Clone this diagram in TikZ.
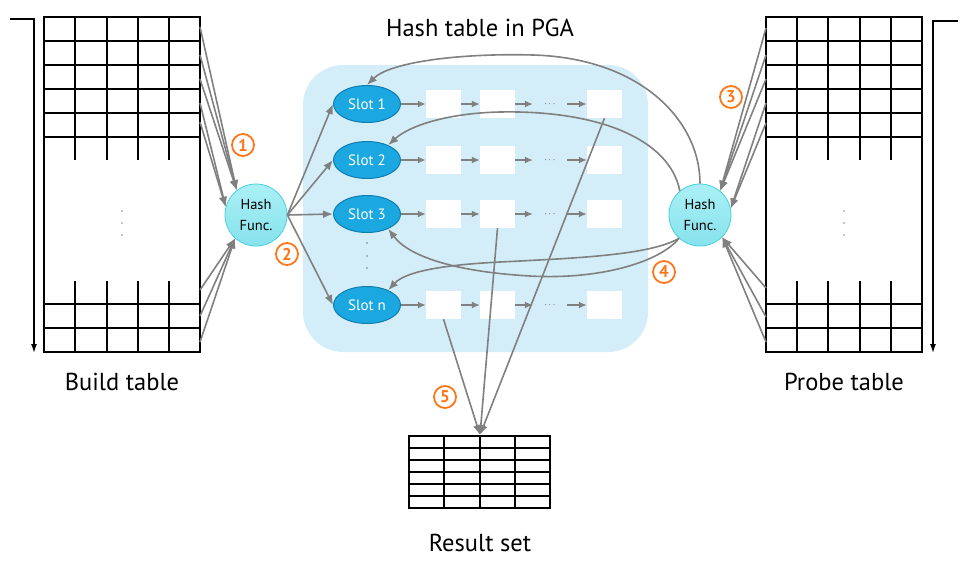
\documentclass[tikz,border=0pt]{standalone}
\usepackage{fontspec}
\setmainfont{PT Sans}
\usetikzlibrary{arrows.meta,shapes.geometric}
\definecolor{arrowgray}{RGB}{128,128,128}
\definecolor{pgablue}{RGB}{212,238,249}
\definecolor{slotfill}{RGB}{27,168,224}
\definecolor{slotborder}{RGB}{16,125,172}
\definecolor{hashtop}{RGB}{170,240,246}
\definecolor{hashfill}{RGB}{135,226,236}
\definecolor{hashborder}{RGB}{70,208,218}
\definecolor{steporange}{RGB}{255,118,24}
\tikzset{
  flow/.style={draw=arrowgray, line width=1.6pt, -{Latex[length=10pt,width=8pt]}},
  link/.style={draw=arrowgray, line width=1.3pt, -{Latex[length=8pt,width=7pt]}},
  slot/.style={ellipse, draw=slotborder, line width=1pt, fill=slotfill, text=white,
    minimum width=67pt, minimum height=37pt, inner sep=0pt, font=\fontsize{15}{16}\selectfont},
  hashfn/.style={circle, draw=hashborder, line width=0.8pt, top color=hashtop, bottom color=hashfill,
    minimum size=62pt, inner sep=0pt, align=center, font=\fontsize{14.5}{21}\selectfont},
  entry/.style={fill=white, minimum width=35pt, minimum height=28pt, inner sep=0pt},
  gap/.style={minimum width=34pt, inner sep=0pt, font=\fontsize{9}{10}\selectfont},
  stepnum/.style={circle, draw=steporange, line width=1.8pt, text=steporange, minimum size=22pt,
    inner sep=0pt, font=\bfseries\fontsize{17}{17}\selectfont},
  caption/.style={font=\fontsize{24.5}{28}\selectfont},
  grid/.style={line width=1.2pt},
}

\begin{document}
\begin{tikzpicture}[x=1pt, y=-1pt]
  \useasboundingbox (0,0) rectangle (977,560);

  % build table
  \draw[grid] (44,17) rectangle (200,352);
  \foreach \yy in {41,65,89,113,137,304,328} \draw[grid] (44,\yy) -- (200,\yy);
  \foreach \xx in {75,107,138,169}{
    \draw[grid] (\xx,17) -- (\xx,160);
    \draw[grid] (\xx,281) -- (\xx,352);
  }
  \foreach \yy in {211,223,235} \fill (122,\yy) circle (0.7pt);
  \draw[line width=1.4pt, -{Latex[length=9pt,width=6pt]}] (10,19) -- (34,19) -- (34,353);
  \node[caption] (buildcap) at (122,382) {Build table};

  % probe table
  \draw[grid] (766,17) rectangle (922,352);
  \foreach \yy in {41,65,89,113,137,304,328} \draw[grid] (766,\yy) -- (922,\yy);
  \foreach \xx in {797,828,860,891}{
    \draw[grid] (\xx,17) -- (\xx,160);
    \draw[grid] (\xx,281) -- (\xx,352);
  }
  \foreach \yy in {211,223,235} \fill (844,\yy) circle (0.7pt);
  \draw[line width=1.4pt, -{Latex[length=9pt,width=6pt]}] (958,21) -- (933,21) -- (933,353);
  \node[caption] (probecap) at (844,382) {Probe table};

  % result set
  \draw[grid] (409,436) rectangle (550,508);
  \foreach \yy in {448,460,472,484,496} \draw[grid] (409,\yy) -- (550,\yy);
  \foreach \xx in {444,480,515} \draw[grid] (\xx,436) -- (\xx,508);
  \coordinate (rtop) at (480,435);
  \node[caption] (resultcap) at (480,543) {Result set};

  % hash table in PGA
  \fill[pgablue, rounded corners=40pt] (303,65) rectangle (648,352);
  \node[caption] (title) at (480,28) {Hash table in PGA};

  \node[hashfn] (hashL) at (256,215) {Hash\\Func.};
  \node[hashfn] (hashR) at (700,215) {Hash\\Func.};

  \foreach \s/\yy in {1/104,2/160,3/214,n/305}{
    \node[slot] (s\s) at (367,\yy) {Slot \s};
    \node[entry] (e\s-a) at (443.5,\yy) {};
    \node[entry] (e\s-b) at (497.5,\yy) {};
    \node[entry] (e\s-c) at (604.5,\yy) {};
    \node[gap] (d\s) at (550,\yy) {$\cdots$};
    \draw[link] (s\s) -- (e\s-a);
    \draw[link] (e\s-a) -- (e\s-b);
    \draw[link] (e\s-b) -- (d\s);
    \draw[link] (d\s) -- (e\s-c);
    \draw[flow] (hashL.east) -- (s\s.west);
  }
  \foreach \yy in {243,256,268} \fill (367,\yy) circle (0.7pt);

  % rows into the hash functions
  \foreach \yy/\a in {27/128,55/128,79/128,103/165,122/165,290/228,316/228,342/228}{
    \coordinate (b\yy) at (200,\yy);
    \draw[flow] (b\yy) -- (hashL.\a);
  }
  \foreach \yy/\a in {28/50,55/50,79/50,103/12,123/12,288/-45,317/-45,342/-45}{
    \coordinate (p\yy) at (766,\yy);
    \draw[flow] (p\yy) -- (hashR.\a);
  }

  % probe lookups
  \draw[flow] (hashR.north) .. controls (700,120) and (640,58) .. (533,55)
    .. controls (460,53) and (390,62) .. (s1.north);
  \draw[flow] (hashR.130) .. controls (670,140) and (600,110) .. (500,112)
    .. controls (450,113) and (410,125) .. (s2.35);
  \draw[flow] (hashR.228) .. controls (660,262) and (600,280) .. (530,276)
    .. controls (460,272) and (410,258) .. (s3.-35);
  \draw[flow] (hashR.228) .. controls (650,255) and (580,258) .. (500,262)
    .. controls (440,265) and (405,272) .. (sn.35);

  % matches to the result set
  \draw[flow] (en-a.south) -- (rtop);
  \draw[flow] (e3-b.south) -- (rtop);
  \draw[flow] (e1-c.south) -- (rtop);

  \node[stepnum] (n1) at (243,145) {1};
  \node[stepnum] (n2) at (287,254) {2};
  \node[stepnum] (n3) at (731,97) {3};
  \node[stepnum] (n4) at (664,272) {4};
  \node[stepnum] (n5) at (445,397) {5};
\end{tikzpicture}
\end{document}
